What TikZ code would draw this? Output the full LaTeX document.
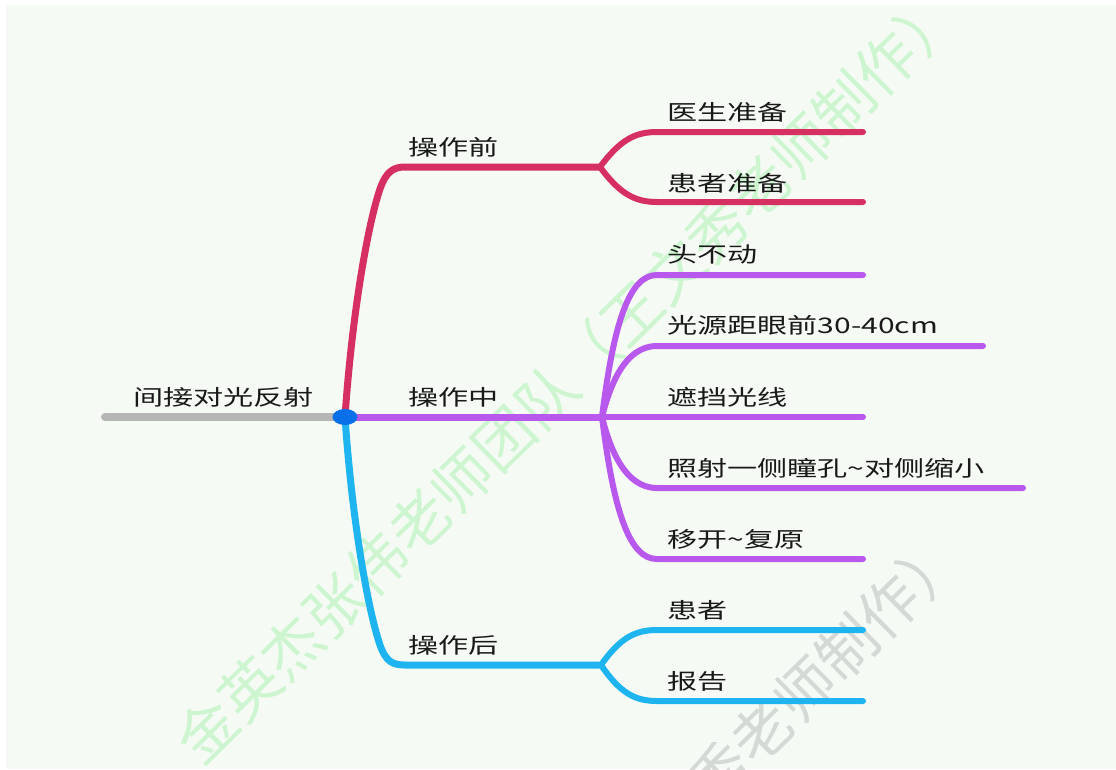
\documentclass[tikz,border=0pt]{standalone}
\usepackage{fontspec}
\newfontfamily\cjk[FakeStretch=1.4]{Noto Sans CJK SC}
\newfontfamily\wmfont{Noto Sans CJK SC}
\definecolor{bgc}{RGB}{246,250,245}
\definecolor{redc}{RGB}{214,48,98}
\definecolor{purc}{RGB}{184,88,236}
\definecolor{bluc}{RGB}{30,180,240}
\definecolor{grayc}{RGB}{182,182,182}
\definecolor{dotc}{RGB}{10,112,234}
\definecolor{txtc}{RGB}{25,25,25}
\definecolor{wmgreen}{RGB}{205,246,208}
\definecolor{wmgray}{RGB}{213,217,213}
\begin{document}
\begin{tikzpicture}[x=1pt,y=-1pt,line cap=round,line join=round,
  lbl/.style={anchor=west,inner sep=0pt,text=txtc,font=\cjk\fontsize{21.5}{26}\selectfont},
  mainline/.style={line width=7pt},
  subline/.style={line width=6pt},
  wm/.style={inner sep=0pt,rotate=44.5,font=\wmfont\fontsize{59.5}{62}\selectfont}]
\useasboundingbox (0,0) rectangle (1116,769);
\clip (0,0) rectangle (1116,769);
\fill[white] (0,0) rectangle (1116,769);
\fill[bgc] (6,5) rectangle (1116,769);

% watermarks
\node[wm,text=wmgreen] (wm1) at (568,376) {金英杰张伟老师团队（王文秀老师制作）};
\node[wm,text=wmgray] (wm2) at (571,919) {金英杰张伟老师团队（王文秀老师制作）};

% key points
\coordinate (hub) at (345,417);
\coordinate (rootend) at (105,417);
\coordinate (rk) at (405,167);
\coordinate (rf) at (600,167);
\coordinate (pf) at (602,417);
\coordinate (bk) at (405,665);
\coordinate (bf) at (601,665);

% root line
\draw[grayc,line width=8pt] (rootend) -- (hub);

% red branch
\draw[redc,mainline] (hub) .. controls (352,314) and (368,224) .. (380,189)
  .. controls (386,172) and (393,167) .. (rk) -- (rf);
\coordinate (r1k) at (657,132); \coordinate (r1e) at (863,132);
\coordinate (r2k) at (657,202); \coordinate (r2e) at (863,202);
\draw[redc,subline] (rf) .. controls (620,140) and (635,132) .. (r1k) -- (r1e);
\draw[redc,subline] (rf) .. controls (620,194) and (635,202) .. (r2k) -- (r2e);

% purple branch
\draw[purc,mainline] (hub) -- (pf);
\coordinate (p1k) at (657,275); \coordinate (p1e) at (863,275);
\coordinate (p2k) at (657,346); \coordinate (p2e) at (983,346);
\coordinate (p3e) at (863,417);
\coordinate (p4k) at (657,488); \coordinate (p4e) at (1023,488);
\coordinate (p5k) at (657,559); \coordinate (p5e) at (863,559);
\draw[purc,subline] (pf) .. controls (614,320) and (630,275) .. (p1k) -- (p1e);
\draw[purc,subline] (pf) .. controls (610,385) and (625,346) .. (p2k) -- (p2e);
\draw[purc,subline] (pf) -- (p3e);
\draw[purc,subline] (pf) .. controls (610,449) and (625,488) .. (p4k) -- (p4e);
\draw[purc,subline] (pf) .. controls (614,514) and (630,559) .. (p5k) -- (p5e);

% blue branch
\draw[bluc,mainline] (hub) .. controls (352,520) and (368,610) .. (380,645)
  .. controls (386,662) and (393,665) .. (bk) -- (bf);
\coordinate (b1k) at (657,630); \coordinate (b1e) at (863,630);
\coordinate (b2k) at (657,701); \coordinate (b2e) at (863,701);
\draw[bluc,subline] (bf) .. controls (620,638) and (635,630) .. (b1k) -- (b1e);
\draw[bluc,subline] (bf) .. controls (620,693) and (635,701) .. (b2k) -- (b2e);

% hub dot
\fill[dotc] (hub) ellipse [x radius=12.5, y radius=8];

% labels
\node[lbl] (root) at (133,397) {间接对光反射};
\node[lbl] (pre) at (408,147) {操作前};
\node[lbl] (mid) at (408,397) {操作中};
\node[lbl] (post) at (408,645) {操作后};
\node[lbl] (r1) at (667,112) {医生准备};
\node[lbl] (r2) at (667,183) {患者准备};
\node[lbl] (p1) at (667,254) {头不动};
\node[lbl] (p2) at (667,325) {光源距眼前30-40cm};
\node[lbl] (p3) at (667,397) {遮挡光线};
\node[lbl] (p4) at (667,468) {照射一侧瞳孔\char"007E 对侧缩小};
\node[lbl] (p5) at (667,539) {移开\char"007E 复原};
\node[lbl] (b1) at (667,610) {患者};
\node[lbl] (b2) at (667,681) {报告};
\end{tikzpicture}
\end{document}
